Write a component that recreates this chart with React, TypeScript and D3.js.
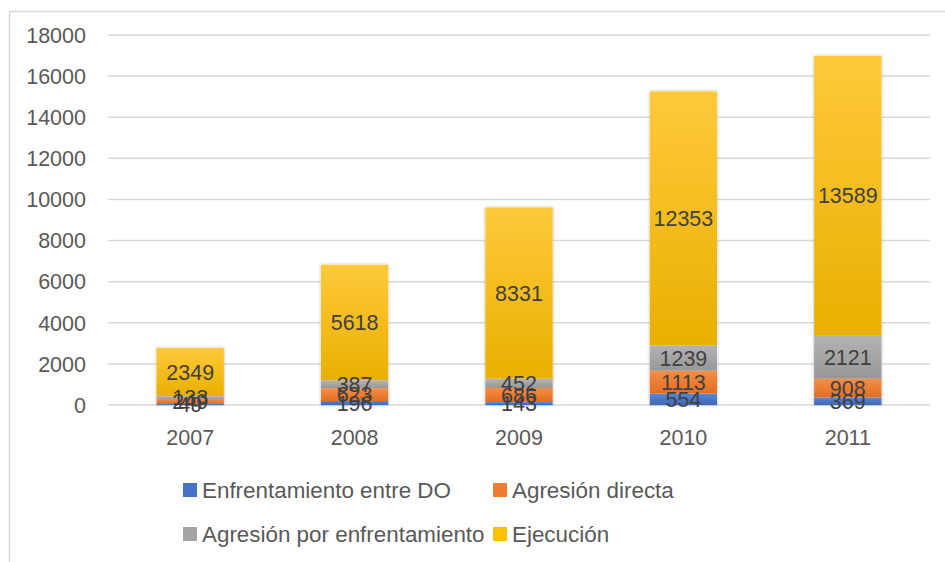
import React from "react";
import * as d3 from "d3";

const years = ["2007", "2008", "2009", "2010", "2011"];
const seriesNames = ["Enfrentamiento entre DO", "Agresión directa", "Agresión por enfrentamiento", "Ejecución"];
const enfrentamiento = [49, 196, 143, 554, 369];
const agresionDirecta = [249, 623, 686, 1113, 908];
const agresionEnfrentamiento = [133, 387, 452, 1239, 2121];
const ejecucion = [2349, 5618, 8331, 12353, 13589];
const yTicks = [0, 2000, 4000, 6000, 8000, 10000, 12000, 14000, 16000, 18000];

const colors = [
  { top: "#5A86D6", bot: "#3D68B8" },
  { top: "#F58E48", bot: "#E06E20" },
  { top: "#B4B4B4", bot: "#969696" },
  { top: "#FFC93B", bot: "#E8B000" },
];
const legendColors = ["#4472C4", "#ED7D31", "#A5A5A5", "#FFC000"];

const W = 945, H = 562;
const FONT = "'Liberation Sans', Arial, sans-serif";

export default function App() {
  const seriesData = [enfrentamiento, agresionDirecta, agresionEnfrentamiento, ejecucion];
  const table = years.map((y, i) => {
    const row: any = { year: y };
    seriesNames.forEach((s, k) => (row[s] = seriesData[k][i]));
    return row;
  });
  const stack = d3.stack<any>().keys(seriesNames)(table);

  const x = d3.scaleBand().domain(years).range([108, 930]).padding(0);
  const y = d3.scaleLinear().domain([0, 18000]).range([405, 35]);
  const barW = x.bandwidth() * 0.41;

  return (
    <svg width={W} height={H} style={{ position: "fixed", left: 0, top: 0, background: "#fff" }} fontFamily={FONT}>
      <defs>
        {colors.map((c, i) => (
          <linearGradient key={i} id={`g${i}`} x1="0" y1="0" x2="0" y2="1">
            <stop offset="0" stopColor={c.top} />
            <stop offset="1" stopColor={c.bot} />
          </linearGradient>
        ))}
        <filter id="sh" x="-20%" y="-20%" width="140%" height="140%">
          <feDropShadow dx="0" dy="0" stdDeviation="1.6" floodColor="#000" floodOpacity="0.3" />
        </filter>
      </defs>
      <rect x={0} y={0} width={W} height={H} fill="#fff" />
      {/* chart border */}
      <line x1={9.5} y1={11} x2={9.5} y2={H} stroke="#D9D9D9" strokeWidth={1.5} />
      <line x1={9} y1={11.5} x2={W} y2={11.5} stroke="#D9D9D9" strokeWidth={1.5} />
      {/* grid */}
      {yTicks.map((t) => (
        <g key={t}>
          <line x1={108} x2={930} y1={y(t)} y2={y(t)} stroke="#D9D9D9" strokeWidth={1.5} />
          <text x={86} y={y(t)} dy="0.36em" textAnchor="end" fontSize={21.5} fill="#595959">
            {t}
          </text>
        </g>
      ))}
      {/* bars */}
      {years.map((yr) => {
        const cx = (x(yr) as number) + x.bandwidth() / 2;
        const i = years.indexOf(yr);
        const top = y(stack[stack.length - 1][i][1]);
        return (
          <rect key={"sh" + yr} x={cx - barW / 2} y={top} width={barW} height={y(0) - top} fill="#fff" filter="url(#sh)" />
        );
      })}
      {stack.map((s, k) => (
        <g key={k}>
          {s.map((d, i) => {
            const cx = (x(years[i]) as number) + x.bandwidth() / 2;
            return (
              <rect key={i} x={cx - barW / 2} y={y(d[1])} width={barW} height={Math.max(0, y(d[0]) - y(d[1]))} fill={`url(#g${k})`} />
            );
          })}
        </g>
      ))}
      {stack.map((s, k) => (
        <g key={"l" + k}>
          {s.map((d, i) => {
            const cx = (x(years[i]) as number) + x.bandwidth() / 2;
            return (
              <text key={i} x={cx} y={(y(d[0]) + y(d[1])) / 2} dy="0.36em" textAnchor="middle" fontSize={21.5} fill="#404040">
                {seriesData[k][i]}
              </text>
            );
          })}
        </g>
      ))}
      {/* x labels */}
      {years.map((yr) => (
        <text key={yr} x={(x(yr) as number) + x.bandwidth() / 2} y={437} dy="0.36em" textAnchor="middle" fontSize={21.5} fill="#595959">
          {yr}
        </text>
      ))}
      {/* legend */}
      {seriesNames.map((n, k) => {
        const lx = k % 2 === 0 ? 183 : 493;
        const ly = k < 2 ? 490 : 534;
        return (
          <g key={n}>
            <rect x={lx} y={ly - 7} width={14} height={14} fill={legendColors[k]} />
            <text x={lx + 19} y={ly} dy="0.36em" fontSize={22.4} fill="#595959">
              {n}
            </text>
          </g>
        );
      })}
    </svg>
  );
}
